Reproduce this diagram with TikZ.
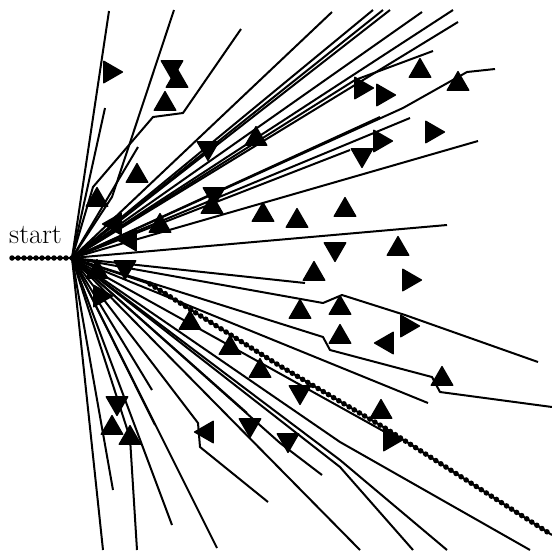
\documentclass[tikz,border=0pt]{standalone}
\usepackage{tikz}
\usetikzlibrary{shapes.geometric}

\begin{document}
\begin{tikzpicture}[x=1pt, y=-1pt, every node/.style={font=\fontsize{28}{32}\selectfont}]
\tikzstyle{ray}=[line width=2pt, line join=round]
\tikzstyle{obst}=[draw, fill=black, line width=1.2pt, line join=round, regular polygon, regular polygon sides=3, minimum size=25pt, inner sep=0pt]
\tikzstyle{beads}=[line width=5.5pt, line cap=round, dash pattern=on 0pt off 6pt]
\useasboundingbox (0,0) rectangle (552,550);
\coordinate (s) at (72,258);
\node[anchor=base west, inner sep=0pt] (lbl) at (9,243) {start};
% straight rays
\foreach \p in {(109,11),(105,108),(138,147),(332,12),(373,10),(383,10),(390,10),(422,12),(453,10),(458,22),
  (478,141),(447,225),(380,117),(410,118),(350,150),(305,283),(428,403),(385,432),(152,390),(247,413),
  (103,550),(113,490),(155,425),(172,525),(217,548),(360,550)}
  \draw[ray] (s) -- \p;
% bent rays
\draw[ray] (s) -- (112,197) -- (174,10);
\draw[ray] (s) -- (93,187) -- (153,117) -- (183,113) -- (241,29);
\draw[ray] (s) -- (355,80) -- (433,51);
\draw[ray] (s) -- (403,108) -- (467,72) -- (495,69);
\draw[ray] (s) -- (323,303) -- (342,295) -- (405,315) -- (538,362);
\draw[ray] (s) -- (323,337) -- (330,350) -- (432,377) -- (440,392) -- (552,407);
\draw[ray] (s) -- (340,442) -- (530,550);
\draw[ray] (s) -- (340,460) -- (447,550);
\draw[ray] (s) -- (340,467) -- (413,550);
\draw[ray] (s) -- (198,423) -- (200,447) -- (268,502);
\draw[ray] (s) -- (130,438) -- (137,550);
\draw[ray] (s) -- (280,443) -- (322,475);
% obstacles
\foreach \x/\y/\r in {110/72/-90, 172/67/180, 177/81/0, 165/104/0, 208/148/180, 256/139/0, 137/176/0,
  97/200/0, 214/194/180, 212/207/0, 263/215/0, 115/224/-30, 160/226/0, 130/240/90,
  420/71/0, 361/88/-90, 383/95/30, 458/84/0, 432/132/-90, 380/141/150, 362/155/180, 345/210/0, 297/221/0,
  335/249/180, 398/249/0, 409/280/150, 314/274/0, 300/312/0, 340/308/0, 340/337/0, 407/326/-90,
  387/343/90, 442/379/0, 300/392/180, 381/412/0, 390/440/150,
  125/267/180, 97/272/0, 100/296/30, 190/323/0, 230/348/0, 260/371/0,
  117/403/180, 112/428/0, 130/438/0, 207/432/90, 250/425/180, 288/440/180}
  \node[obst, rotate=\r] at (\x,\y) {};
% path found
\draw[line width=2pt] (12,258) -- (s);
\draw[beads] (12,258) -- (s);
\draw[line width=2pt] (s) -- (150,284) -- (280,366) -- (385,428) -- (552,535);
\draw[beads] (150,284) -- (280,366) -- (385,428) -- (552,535);
\end{tikzpicture}
\end{document}
